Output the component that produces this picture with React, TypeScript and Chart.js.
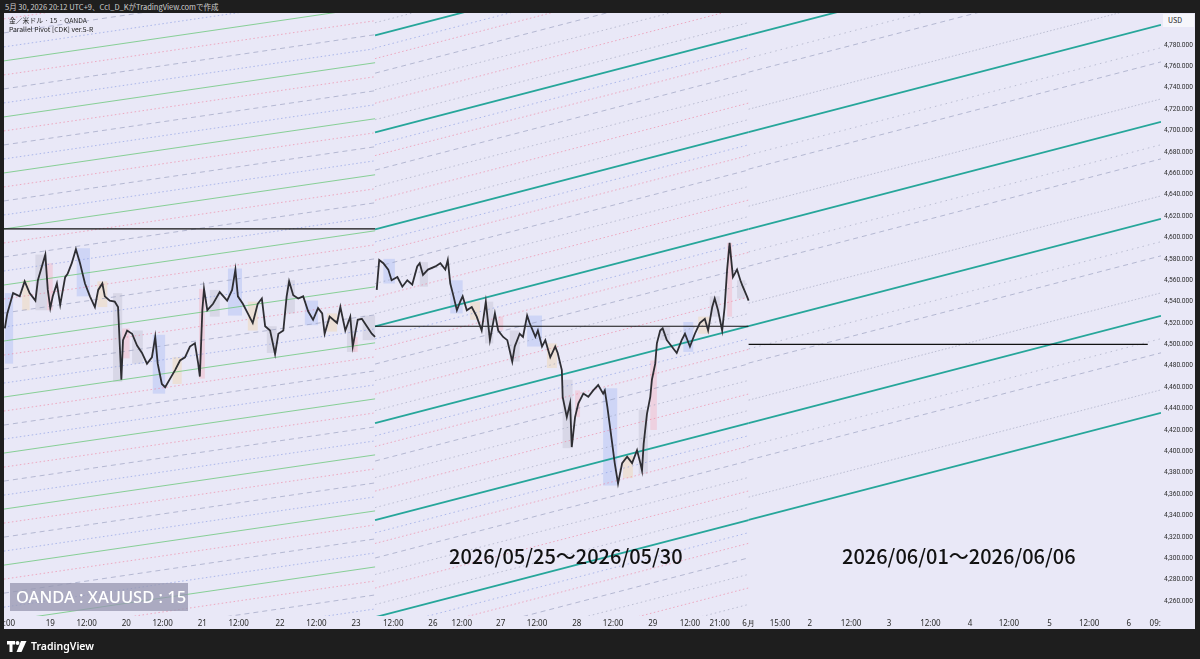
import React, { useEffect, useRef } from "react";
import { Chart, registerables } from "chart.js";
Chart.register(...registerables);

// x axis unit: 15-minute bar index (time slots)
const X_MAX = 1400;
const Y_MIN = 4246;
const Y_MAX = 4810;

const TICK_POS = [1, 56, 100, 148, 192, 240, 284, 334, 378, 426, 471, 519, 554, 601, 645, 693, 737, 785, 830, 866, 901, 939, 975, 1025, 1071, 1121, 1169, 1216, 1265, 1313, 1361, 1393];
const TICK_LABELS = ["12:00", "19", "12:00", "20", "12:00", "21", "12:00", "22", "12:00", "23", "12:00", "26", "12:00", "27", "12:00", "28", "12:00", "29", "12:00", "21:00", "6月", "15:00", "2", "12:00", "3", "12:00", "4", "12:00", "5", "12:00", "6", "09:"];
const PRICE_TICKS = [4260, 4280, 4300, 4320, 4340, 4360, 4380, 4400, 4420, 4440, 4460, 4480, 4500, 4520, 4540, 4560, 4580, 4600, 4620, 4640, 4660, 4680, 4700, 4720, 4740, 4760, 4780];

// week of 2026/05/18 - 05/23
const W1_BARS = [1, 4, 11, 19, 25, 31, 38, 41, 50, 53, 56, 59, 64, 68, 74, 77, 82, 87, 92, 98, 104, 110, 114, 119, 122, 128, 134, 138, 142, 144, 149, 155, 161, 167, 173, 179, 183, 186, 191, 195, 201, 207, 213, 219, 225, 231, 235, 237, 240, 242, 246, 253, 261, 270, 276, 280, 283, 289, 295, 301, 307, 312, 316, 322, 328, 332, 338, 342, 345, 350, 356, 362, 368, 374, 380, 385, 388, 394, 403, 407, 413, 419, 422, 428, 433, 439, 445, 449];
const W1_PRICE = [4515, 4529, 4548, 4545, 4559, 4548, 4541, 4560, 4584, 4551, 4534, 4545, 4557, 4537, 4563, 4566, 4576, 4589, 4576, 4557, 4545, 4535, 4551, 4557, 4545, 4541, 4540, 4535, 4467, 4504, 4513, 4510, 4499, 4492, 4482, 4488, 4507, 4482, 4463, 4460, 4468, 4476, 4485, 4488, 4498, 4501, 4482, 4470, 4532, 4552, 4532, 4538, 4549, 4541, 4551, 4570, 4545, 4538, 4529, 4520, 4538, 4543, 4517, 4513, 4491, 4510, 4513, 4545, 4559, 4546, 4543, 4545, 4531, 4523, 4534, 4529, 4510, 4526, 4520, 4535, 4513, 4526, 4498, 4523, 4524, 4517, 4510, 4507];

// week of 2026/05/25 - 05/30
const W2_BARS = [451, 454, 459, 465, 469, 476, 482, 488, 494, 500, 503, 507, 513, 522, 528, 534, 537, 540, 543, 548, 552, 555, 560, 566, 572, 578, 583, 588, 594, 598, 604, 609, 615, 618, 624, 628, 633, 636, 643, 646, 651, 655, 661, 667, 670, 675, 676, 681, 685, 687, 691, 695, 701, 707, 713, 719, 725, 727, 730, 736, 739, 743, 748, 754, 760, 766, 770, 772, 774, 778, 782, 784, 788, 790, 794, 797, 802, 808, 814, 820, 824, 830, 836, 842, 848, 852, 857, 860, 864, 869, 872, 875, 878, 882, 887, 891, 894, 899, 901];
const W2_PRICE = [4551, 4579, 4576, 4570, 4560, 4563, 4554, 4560, 4556, 4573, 4576, 4565, 4570, 4573, 4576, 4570, 4579, 4557, 4548, 4532, 4540, 4545, 4532, 4535, 4526, 4513, 4540, 4504, 4529, 4513, 4507, 4504, 4484, 4498, 4510, 4507, 4527, 4520, 4507, 4513, 4498, 4504, 4488, 4498, 4492, 4476, 4451, 4432, 4445, 4404, 4432, 4445, 4454, 4451, 4457, 4462, 4454, 4457, 4442, 4407, 4389, 4370, 4389, 4395, 4389, 4401, 4389, 4382, 4407, 4435, 4451, 4467, 4482, 4501, 4513, 4515, 4504, 4498, 4492, 4504, 4510, 4498, 4510, 4520, 4524, 4513, 4535, 4543, 4532, 4513, 4535, 4570, 4595, 4563, 4570, 4560, 4554, 4545, 4541];

// session range boxes: kind 0 blue, 1 pink, 2 beige, 3 gray
const BOX_START = [1, 22, 38, 52, 88, 113, 132, 143, 155, 180, 204, 236, 249, 271, 295, 318, 342, 364, 391, 415, 421, 434,
  459, 503, 540, 564, 582, 598, 612, 633, 657, 676, 691, 725, 749, 768, 782, 794, 822, 840, 854, 875, 887];
const BOX_END = [11, 31, 52, 59, 104, 125, 143, 152, 168, 195, 215, 243, 261, 288, 307, 330, 352, 380, 403, 425, 428, 449,
  473, 513, 555, 576, 592, 604, 624, 651, 669, 688, 697, 742, 761, 779, 790, 806, 834, 854, 866, 881, 897];
const BOX_LOW = [4482, 4532, 4532, 4532, 4545, 4535, 4465, 4487, 4482, 4454, 4463, 4468, 4526, 4527, 4513, 4492, 4529, 4518, 4512, 4493, 4493, 4504,
  4557, 4554, 4529, 4523, 4501, 4513, 4484, 4498, 4478, 4403, 4432, 4368, 4375, 4379, 4420, 4504, 4493, 4510, 4526, 4526, 4543];
const BOX_HIGH = [4548, 4560, 4584, 4576, 4590, 4559, 4548, 4515, 4513, 4509, 4488, 4552, 4551, 4571, 4540, 4517, 4560, 4541, 4529, 4523, 4507, 4527,
  4580, 4577, 4560, 4540, 4540, 4526, 4513, 4527, 4501, 4467, 4457, 4459, 4396, 4439, 4485, 4517, 4521, 4526, 4545, 4595, 4560];
const BOX_KIND = [0, 2, 3, 1, 0, 2, 3, 1, 3, 0, 2, 1, 3, 0, 2, 3, 3, 0, 2, 3, 1, 3,
  0, 3, 0, 2, 3, 1, 3, 0, 2, 3, 1, 0, 2, 3, 1, 3, 0, 2, 3, 1, 3];
const BOX_COLORS = ["rgba(165,185,245,0.40)", "rgba(245,175,190,0.40)", "rgba(240,215,175,0.45)", "rgba(195,195,210,0.45)"];

// weekly pivot (horizontal) lines
const PIVOT_START = [0, 449, 901];
const PIVOT_END = [449, 901, 1384];
const PIVOT_PRICE = [4608, 4517, 4500];

// parallel pivot channels (last week, this week, projection into next week)
const CH_START = [0, 449, 901];
const CH_END = [449, 901, 1400];
const CH_BASE = [4608, 4517, 4607.9];
const CH_STEP = [52.4, 90.7, 90.7];
const CH_RISE_PER_BAR = [0.1129, 0.201, 0.201];
const CH_KMIN = [-16, -16, -3];

const GRAY_DOT = "rgba(150,155,180,0.55)";
const PINK_DOT = "rgba(240,125,155,0.6)";
const BLUE_DOT = "rgba(130,150,225,0.6)";
const GRAY_DASH = "rgba(145,152,185,0.6)";
const CH_STYLES = [
  [
    { f: 0, color: "rgba(110,200,125,0.8)", width: 1, dash: [] as number[] },
    { f: 0.25, color: BLUE_DOT, width: 1, dash: [1.5, 2.5] },
    { f: 0.5, color: GRAY_DASH, width: 1, dash: [5, 4] },
    { f: 0.75, color: PINK_DOT, width: 1, dash: [1.5, 2.5] },
  ],
  [
    { f: 0, color: "#26a69a", width: 1.8, dash: [] as number[] },
    { f: 0.13, color: GRAY_DOT, width: 1, dash: [1.5, 3] },
    { f: 0.3, color: PINK_DOT, width: 1, dash: [1.5, 2.5] },
    { f: 0.44, color: GRAY_DOT, width: 1, dash: [1.5, 3] },
    { f: 0.61, color: GRAY_DASH, width: 1, dash: [5, 4] },
    { f: 0.76, color: PINK_DOT, width: 1, dash: [1.5, 2.5] },
    { f: 0.87, color: BLUE_DOT, width: 1, dash: [1.5, 3] },
  ],
  [
    { f: 0, color: "#26a69a", width: 1.8, dash: [] as number[] },
    { f: 0.236, color: GRAY_DOT, width: 1, dash: [1.5, 2] },
    { f: 0.618, color: GRAY_DASH, width: 1, dash: [5, 4] },
    { f: 0.764, color: GRAY_DOT, width: 1, dash: [1.5, 4] },
  ],
];

function buildDatasets() {
  const ds: any[] = [];
  CH_BASE.forEach((base, c) => {
    const start = CH_START[c];
    const end = CH_END[c];
    const rise = CH_RISE_PER_BAR[c] * (end - start);
    const step = CH_STEP[c];
    for (let k = CH_KMIN[c]; k <= 16; k++) {
      CH_STYLES[c].forEach((s) => {
        const p0 = base + (k + s.f) * step;
        const p1 = p0 + rise;
        if (p1 < Y_MIN - 5 || p0 > Y_MAX + 5) return;
        ds.push({
          data: [{ x: start, y: p0 }, { x: end, y: p1 }],
          borderColor: s.color,
          borderWidth: s.width,
          borderDash: s.dash,
          pointRadius: 0,
          order: s.f === 0 ? 3 : 4,
        });
      });
    }
  });
  PIVOT_PRICE.forEach((p, i) => {
    ds.push({
      data: [{ x: PIVOT_START[i], y: p }, { x: PIVOT_END[i], y: p }],
      borderColor: "#111",
      borderWidth: 1.2,
      pointRadius: 0,
      order: 2,
    });
  });
  [[W1_BARS, W1_PRICE], [W2_BARS, W2_PRICE]].forEach(([bars, prices]) => {
    ds.push({
      data: bars.map((b, i) => ({ x: b, y: prices[i] })),
      borderColor: "#2e2e33",
      borderWidth: 1.8,
      pointRadius: 0,
      tension: 0,
      order: 1,
    });
  });
  return ds;
}

const boxPlugin = {
  id: "sessionBoxes",
  beforeDatasetsDraw(chart: any) {
    const { ctx, scales, chartArea } = chart;
    const xs = scales.x;
    const ys = scales.y;
    ctx.save();
    ctx.beginPath();
    ctx.rect(chartArea.left, chartArea.top, chartArea.right - chartArea.left, chartArea.bottom - chartArea.top);
    ctx.clip();
    BOX_START.forEach((b, i) => {
      const x0 = xs.getPixelForValue(b);
      const x1 = xs.getPixelForValue(BOX_END[i]);
      const y0 = ys.getPixelForValue(BOX_HIGH[i]);
      const y1 = ys.getPixelForValue(BOX_LOW[i]);
      ctx.fillStyle = BOX_COLORS[BOX_KIND[i]];
      ctx.fillRect(x0, y0, x1 - x0, y1 - y0);
    });
    ctx.restore();
  },
};

export default function App() {
  const ref = useRef<HTMLCanvasElement>(null);
  useEffect(() => {
    document.body.style.margin = "0";
    const chart = new Chart(ref.current!, {
      type: "line",
      data: { datasets: buildDatasets() },
      plugins: [boxPlugin],
      options: {
        responsive: false,
        animation: false,
        events: [],
        layout: { padding: 0 },
        plugins: { legend: { display: false }, tooltip: { enabled: false } },
        scales: {
          x: {
            type: "linear",
            min: 0,
            max: X_MAX,
            grid: { display: false, drawTicks: false },
            border: { display: false },
            ticks: {
              autoSkip: false,
              maxRotation: 0,
              padding: 3,
              color: "#2a2a2a",
              font: { family: "'Noto Sans', sans-serif", size: 8 },
              callback: (_v: any, i: number) => TICK_LABELS[i],
            },
            afterBuildTicks: (s: any) => {
              s.ticks = TICK_POS.map((v) => ({ value: v }));
            },
            afterFit: (s: any) => {
              s.height = 13;
              s.paddingLeft = 0;
              s.paddingRight = 0;
            },
          },
          y: {
            position: "right",
            min: Y_MIN,
            max: Y_MAX,
            grid: { display: false, drawTicks: false },
            border: { display: false },
            ticks: {
              padding: 3,
              color: "#2a2a2a",
              font: { family: "Roboto, sans-serif", size: 6.6 },
              callback: (v: any) =>
                Number(v).toLocaleString("en-US", { minimumFractionDigits: 3, maximumFractionDigits: 3 }),
            },
            afterBuildTicks: (s: any) => {
              s.ticks = PRICE_TICKS.map((v) => ({ value: v }));
            },
            afterFit: (s: any) => {
              s.width = 34;
              s.paddingTop = 0;
              s.paddingBottom = 0;
            },
          },
        },
      },
    });
    return () => chart.destroy();
  }, []);

  const cjk = "'Noto Sans CJK JP', 'Noto Sans', sans-serif";
  return (
    <div style={{ position: "fixed", left: 0, top: 0, width: 1200, height: 659, background: "#1e1e1e", overflow: "hidden", fontFamily: cjk }}>
      <div style={{ position: "absolute", left: 5, top: 1, fontSize: 7.5, color: "#cfcfcf", whiteSpace: "nowrap" }}>
        5月 30, 2026 20:12 UTC+9、Ccl_D_KがTradingView.comで作成
      </div>
      <div style={{ position: "absolute", left: 4, top: 13, width: 1191, height: 616, background: "#e9e8f7" }}>
        <canvas ref={ref} width={1191} height={616} style={{ display: "block" }} />
        <div style={{ position: "absolute", left: 5, top: 3, fontSize: 6.8, color: "#222", lineHeight: "9px", whiteSpace: "nowrap" }}>
          <div>金／米ドル · 15 · OANDA</div>
          <div>Parallel Pivot [CDK] ver.5-R</div>
        </div>
        <div style={{ position: "absolute", left: 1159, top: 1, width: 31, height: 13, background: "#f6f6fb", fontSize: 7, color: "#222", lineHeight: "13px", paddingLeft: 5, boxSizing: "border-box" }}>
          USD
        </div>
        <div style={{ position: "absolute", left: 6, top: 570, width: 178, height: 28, background: "rgba(150,150,175,0.75)", color: "#fff", fontFamily: "'Noto Sans', sans-serif", fontSize: 16.5, fontWeight: 500, lineHeight: "28px", paddingLeft: 6, boxSizing: "border-box", whiteSpace: "nowrap" }}>
          OANDA : XAUUSD : 15
        </div>
        <div style={{ position: "absolute", left: 445, top: 530, fontSize: 20, fontWeight: 500, color: "#111", whiteSpace: "nowrap", lineHeight: "26px" }}>
          2026/05/25～2026/05/30
        </div>
        <div style={{ position: "absolute", left: 838, top: 530, fontSize: 20, fontWeight: 500, color: "#111", whiteSpace: "nowrap", lineHeight: "26px" }}>
          2026/06/01～2026/06/06
        </div>
      </div>
      <div style={{ position: "absolute", left: 7, top: 639, display: "flex", alignItems: "center", gap: 4 }}>
        <svg width="20" height="11" viewBox="0 0 20 11">
          <path d="M0 0h8v3.5H5.5V11H2.5V3.5H0z" fill="#fff" />
          <circle cx="10.5" cy="2" r="2" fill="#fff" />
          <path d="M14 0h5.5l-5 11H9.5z" fill="#fff" />
        </svg>
        <span style={{ color: "#fff", fontFamily: "'Noto Sans', sans-serif", fontSize: 10.5, fontWeight: 600 }}>TradingView</span>
      </div>
    </div>
  );
}
